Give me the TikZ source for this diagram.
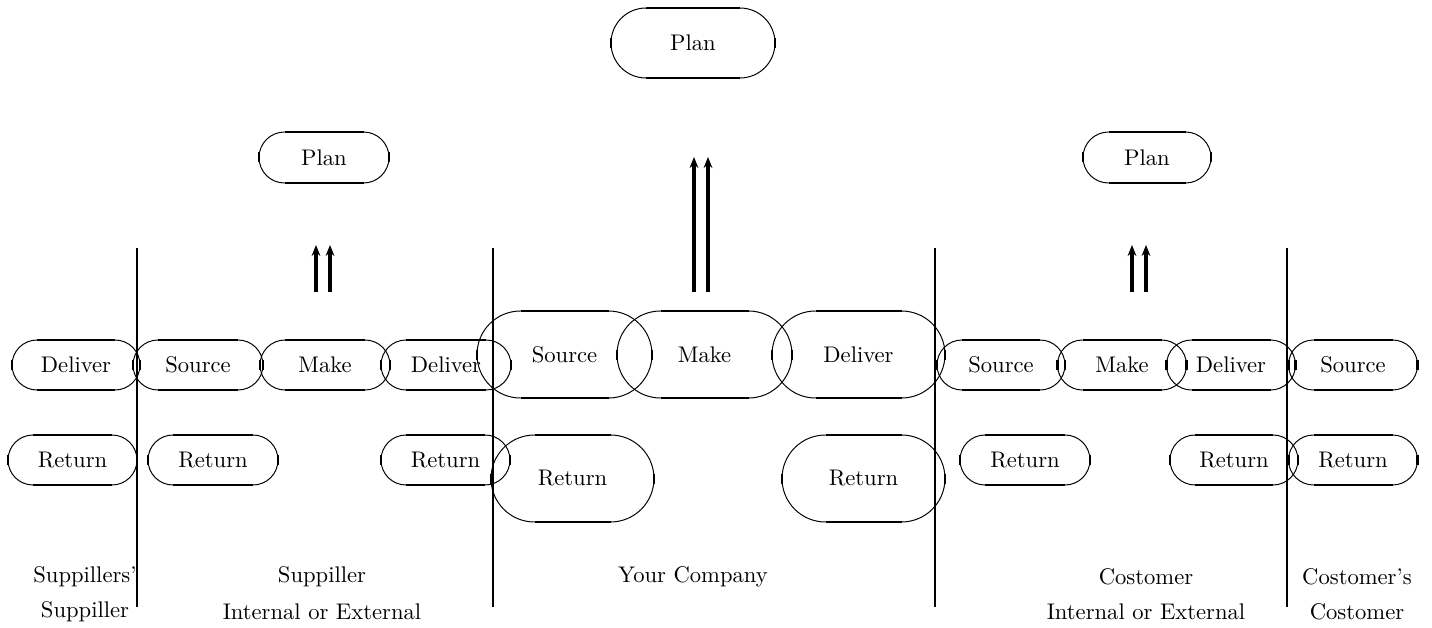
\documentclass[tikz,border=0pt]{standalone}
\usetikzlibrary{shapes.misc,arrows.meta}
% stadium box: name, x, y, width, height, label (pixel-like units)
\newcommand\stad[6]{%
  \node[stadium, minimum width={#4*0.016cm}, minimum height={#5*0.016cm}] (#1) at (#2,#3) {#6};
  \draw[flat] ({#2-#4/2+#5/2},{#3-#5/2}) -- ({#2+#4/2-#5/2},{#3-#5/2});
  \draw[flat] ({#2-#4/2+#5/2},{#3+#5/2}) -- ({#2+#4/2-#5/2},{#3+#5/2});
  \draw[flat] ({#2-#4/2},{#3-5}) -- ({#2-#4/2},{#3+5});
  \draw[flat] ({#2+#4/2},{#3-5}) -- ({#2+#4/2},{#3+5});
}
\begin{document}
\begin{tikzpicture}[x=0.016cm,y=-0.016cm,
  every node/.style={font=\fontsize{10.3}{12}\selectfont},
  stadium/.style={rounded rectangle, draw, line width=0.45pt, inner sep=0pt},
  flat/.style={line width=0.95pt},
  divider/.style={line width=0.9pt},
  uparrow/.style={line width=1.4pt, -{Stealth[length=5pt,width=4pt]}},
  caption/.style={inner sep=0pt}]
\useasboundingbox (0,0) rectangle (1432,628);

% planning level
\stad{plantop}{693}{43}{164}{70}{Plan}
\stad{planleft}{324}{157.5}{130}{51}{Plan}
\stad{planright}{1147}{157.5}{128}{51}{Plan}

% upward flows
\coordinate (la1) at (316,292); \coordinate (la1t) at (316,245);
\coordinate (la2) at (330,292); \coordinate (la2t) at (330,245);
\coordinate (ma1) at (694,292); \coordinate (ma1t) at (694,157);
\coordinate (ma2) at (708,292); \coordinate (ma2t) at (708,157);
\coordinate (ra1) at (1132,292); \coordinate (ra1t) at (1132,245);
\coordinate (ra2) at (1146,292); \coordinate (ra2t) at (1146,245);
\foreach \a in {la1,la2,ma1,ma2,ra1,ra2} \draw[uparrow] (\a) -- (\a t);

% execution row
\stad{dlv0}{76}{365}{128}{50}{Deliver}
\stad{src1}{198}{365}{130}{50}{Source}
\stad{mk1}{325}{365}{130}{50}{Make}
\stad{dlv1}{446}{365}{130}{50}{Deliver}
\stad{src2}{564.5}{354.5}{175}{87}{Source}
\stad{mk2}{704.5}{354.5}{175}{87}{Make}
\stad{dlv2}{858.5}{354.5}{173}{87}{Deliver}
\stad{src3}{1001}{365}{128}{50}{Source}
\stad{mk3}{1122}{365}{129}{50}{Make}
\stad{dlv3}{1231}{365}{129}{50}{Deliver}
\stad{src4}{1353}{365}{129}{50}{Source}

% return row
\stad{ret0}{72.5}{460}{129}{50}{Return}
\stad{ret1a}{213}{460}{130}{50}{Return}
\stad{ret1b}{445.5}{460}{129}{50}{Return}
\stad{ret2a}{572.5}{478.5}{163}{87}{Return}
\stad{ret2b}{863.5}{478.5}{163}{87}{Return}
\stad{ret3a}{1025}{460}{130}{50}{Return}
\stad{ret3b}{1234}{460}{128}{50}{Return}
\stad{ret4}{1353}{460}{129}{50}{Return}

% boundaries between partners
\foreach \n/\x in {d1/137,d2/493,d3/935,d4/1287}{
  \coordinate (\n t) at (\x,248);
  \coordinate (\n b) at (\x,607);
  \draw[divider] (\n t) -- (\n b);
}

% partner captions
\node[caption] (c0a) at (85,577) {Suppillers'};
\node[caption] (c0b) at (85,612) {Suppiller};
\node[caption] (c1a) at (322,577) {Suppiller};
\node[caption] (c1b) at (322,612) {Internal or External};
\node[caption] (c2a) at (693,577) {Your Company};
\node[caption] (c3a) at (1146,577) {Costomer};
\node[caption] (c3b) at (1146,612) {Internal or External};
\node[caption] (c4a) at (1357,577) {Costomer's};
\node[caption] (c4b) at (1357,612) {Costomer};
\end{tikzpicture}
\end{document}
